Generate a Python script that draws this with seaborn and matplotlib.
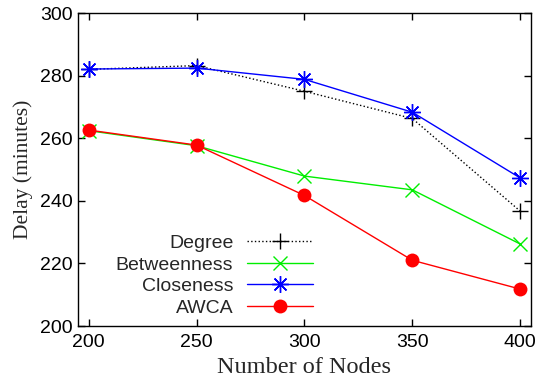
import numpy as np
import pandas as pd
import seaborn as sns
import matplotlib.pyplot as plt

nodes = [200, 250, 300, 350, 400]
degree = [282.0, 283.2, 275.0, 266.3, 236.7]
betweenness = [262.4, 257.6, 247.9, 243.5, 226.2]
closeness = [282.1, 282.4, 278.8, 268.3, 247.3]
awca = [262.6, 257.8, 241.7, 221.0, 211.8]

series = ['Degree', 'Betweenness', 'Closeness', 'AWCA']
df = pd.DataFrame({'Number of Nodes': nodes * 4,
                   'Delay': degree + betweenness + closeness + awca,
                   'Method': [s for s in series for _ in nodes]})

sns.set_style('ticks')
plt.rcParams['font.family'] = ['Liberation Sans', 'DejaVu Sans']
plt.rcParams['xtick.direction'] = 'in'
plt.rcParams['ytick.direction'] = 'in'

fig = plt.figure(figsize=(5.4, 3.86), dpi=100)
ax = fig.add_axes([0.1444, 0.1554, 0.8389, 0.8109])

styles = {
    'Degree': dict(color='black', marker='+', linestyle=':', ms=11, mew=1),
    'Betweenness': dict(color='#00ee00', marker='x', linestyle='-', ms=10, mew=1),
    'Closeness': dict(color='#0000ff', marker=(8, 2, 0), linestyle='-', ms=12, mew=1),
    'AWCA': dict(color='#ff0000', marker='o', linestyle='-', ms=10, mew=0),
}
for s in series:
    st = styles[s]
    sns.lineplot(data=df[df['Method'] == s], x='Number of Nodes', y='Delay', ax=ax,
                 label=s, color=st['color'], marker=st['marker'], linestyle=st['linestyle'],
                 markersize=st['ms'], markeredgewidth=st['mew'], markeredgecolor=st['color'],
                 linewidth=1)

ax.set_xlim(195, 405)
ax.set_ylim(200, 300)
ax.set_xticks(nodes)
ax.set_yticks([200, 220, 240, 260, 280, 300])
ax.tick_params(axis='both', which='both', top=True, right=True, length=5, width=1,
               labelsize=14, colors='black')
ax.tick_params(axis='x', pad=6)
ax.tick_params(axis='y', pad=4)
for sp in ax.spines.values():
    sp.set_linewidth(1)
    sp.set_color('black')

ax.set_xlabel('Number of Nodes', fontsize=17.5, family='Liberation Serif', labelpad=4)
ax.set_ylabel('Delay (minutes)', fontsize=15.5, family='Liberation Serif', labelpad=5)

ax.legend(loc='lower right', bbox_to_anchor=(0.519, 0.03), frameon=False,
          markerfirst=False, fontsize=14, handlelength=3.4, handletextpad=0.7,
          labelspacing=0.2, borderpad=0, borderaxespad=0)

fig.savefig('out.png', dpi=100)
